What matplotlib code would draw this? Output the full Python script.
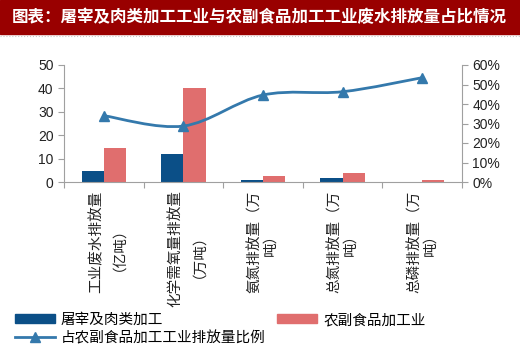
import numpy as np
import matplotlib.pyplot as plt
from matplotlib.patches import Rectangle, Patch
from matplotlib.lines import Line2D
from matplotlib.path import Path
from matplotlib.patches import PathPatch

plt.rcParams['font.family'] = ['Liberation Sans', 'Noto Sans CJK SC', 'DejaVu Sans']
cjk = ['Noto Sans CJK SC', 'DejaVu Sans']

categories = ['工业废水排放量\n（亿吨）', '化学需氧量排放量\n（万吨）', '氨氮排放量（万\n吨）',
              '总氮排放量（万\n吨）', '总磷排放量（万\n吨）']
meat = [4.6, 12.0, 0.9, 1.9, 0.0]
agri = [14.6, 40.2, 2.6, 3.8, 0.8]
ratio = [34.0, 28.7, 44.6, 46.3, 53.5]  # %
title = '图表：屠宰及肉类加工工业与农副食品加工工业废水排放量占比情况'

blue = '#0B4F87'
pink = '#E06E6E'
line_c = '#3479AC'
grey = '#A0A0A0'

fig = plt.figure(figsize=(5.2, 3.53), dpi=100)

# title bar
fig.patches.append(Rectangle((0, 1 - 34 / 353), 1, 34 / 353, transform=fig.transFigure,
                             color='#990000', zorder=0))
fig.text(12 / 520, 1 - 17 / 353, title, color='white', fontsize=11.9, fontweight='bold',
         family=cjk, va='center', ha='left')
fig.add_artist(Line2D([0, 1], [1 - 36 / 353] * 2, transform=fig.transFigure,
                      color='#c8c8c8', lw=0.8, ls=':'))

ax = fig.add_axes([64 / 520, 1 - 182 / 353, 398 / 520, 117 / 353])
x = np.arange(len(categories))
w = 0.28
ax.bar(x - w / 2, meat, w, color=blue, zorder=2)
ax.bar(x + w / 2, agri, w, color=pink, zorder=2)
ax.set_xlim(-0.5, len(categories) - 0.5)
ax.set_ylim(0, 50)
ax.set_yticks(range(0, 51, 10))
ax.set_xticks(np.arange(-0.5, len(categories), 1))
ax.set_xticklabels([])
ax.set_xticks(x, minor=True)
ax.set_xticklabels(categories, minor=True, rotation=90, family=cjk, fontsize=10.5,
                   color='#222222', linespacing=1.15)
ax.tick_params(axis='x', which='minor', length=0, pad=6)
ax.tick_params(axis='x', which='major', length=4, color=grey, direction='out')
ax.tick_params(axis='y', length=4, color=grey, labelsize=10, colors='#222222')
for s in ['top', 'right']:
    ax.spines[s].set_visible(False)
for s in ['left', 'bottom']:
    ax.spines[s].set_color(grey)

ax2 = ax.twinx()
ax2.set_ylim(0, 60)
ax2.set_yticks(range(0, 61, 10))
ax2.set_yticklabels(['%d%%' % v for v in range(0, 61, 10)])
ax2.tick_params(axis='y', length=4, color=grey, labelsize=10, colors='#222222')
for s in ['top', 'left', 'bottom']:
    ax2.spines[s].set_visible(False)
ax2.spines['right'].set_color(grey)

# smoothed line (Catmull-Rom -> Bezier)
pts = np.column_stack([x, ratio]).astype(float)
ext = np.vstack([pts[0], pts, pts[-1]])
verts = [tuple(pts[0])]
codes = [Path.MOVETO]
for i in range(1, len(ext) - 2):
    p0, p1, p2, p3 = ext[i - 1], ext[i], ext[i + 1], ext[i + 2]
    c1 = p1 + (p2 - p0) / 6
    c2 = p2 - (p3 - p1) / 6
    verts += [tuple(c1), tuple(c2), tuple(p2)]
    codes += [Path.CURVE4] * 3
ax2.add_patch(PathPatch(Path(verts, codes), fill=False, edgecolor=line_c, lw=2, zorder=3))
ax2.plot(x, ratio, ls='none', marker='^', ms=7, color=line_c, zorder=4)

handles = [Patch(color=blue, label='屠宰及肉类加工'),
           Line2D([], [], color=line_c, lw=2, marker='^', ms=7, label='占农副食品加工工业排放量比例'),
           Patch(color=pink, label='农副食品加工业')]
fig.legend(handles=handles, ncol=2, loc='upper left', bbox_to_anchor=(15 / 520, 1 - 313 / 353),
           frameon=False, prop={'family': cjk, 'size': 10.5}, handlelength=2.75,
           handleheight=0.55, columnspacing=0.8, labelspacing=0.25, handletextpad=0.4,
           borderpad=0, borderaxespad=0)

fig.savefig('out.png', dpi=100)
